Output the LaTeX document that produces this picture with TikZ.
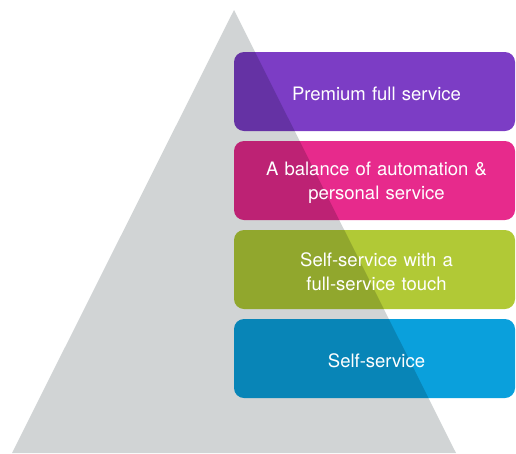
\documentclass[tikz,border=0pt]{standalone}
\usepackage{fontspec}
\setmainfont{TeX Gyre Heros}
\usepackage{tikz}
\usetikzlibrary{positioning}
\definecolor{pyramidgray}{RGB}{209,212,213}
\definecolor{tierpurple}{RGB}{124,61,197}
\definecolor{tierpink}{RGB}{231,42,140}
\definecolor{tiergreen}{RGB}{177,201,54}
\definecolor{tierblue}{RGB}{10,160,220}
\tikzset{
    tier box/.style={
        rounded corners=10pt,
        minimum width=281pt,minimum height=79pt
    },
    tier label/.style={
        text width=270pt,align=center,
        text=white,
        font=\fontsize{18.5}{24}\selectfont
    }
}

\begin{document}
\begin{tikzpicture}[x=1pt,y=-1pt]
\useasboundingbox (0,0) rectangle (516,453);
\fill[pyramidgray] (234,10) -- (456,453) -- (12,453) -- cycle;
% boxes darken the pyramid where they overlap it
\begin{scope}[blend mode=multiply]
\foreach \i/\col in {0/tierpurple,1/tierpink,2/tiergreen,3/tierblue}
    \node[tier box,fill=\col] (tier_\i) at (374.5,91.5+89*\i) {};
\end{scope}
\foreach \i/\txt in {0/{Premium full service},
                     1/{A balance of automation \&\\personal service},
                     2/{Self-service with a\\full-service touch},
                     3/{Self-service}}
    \node[tier label,xshift=2pt,yshift=-2pt] (label_\i) at (tier_\i) {\txt};
\end{tikzpicture}
\end{document}
